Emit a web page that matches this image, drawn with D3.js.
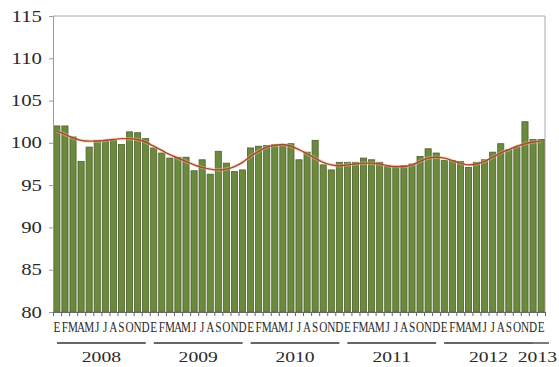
<!DOCTYPE html>
<html>
<head>
<meta charset="utf-8">
<script src="https://cdn.jsdelivr.net/npm/d3@7"></script>
<style>
  html, body { margin: 0; padding: 0; background: #fff; }
  svg { display: block; }
  text { font-family: "Liberation Serif", "Times New Roman", serif; fill: #2a2a2a; }
</style>
</head>
<body>
<svg id="chart" width="559" height="367"></svg>
<script>
// Monthly index, January 2008 – January 2013
const years = ["2008", "2009", "2010", "2011", "2012", "2013"];
const monthLetters = ["E", "F", "M", "A", "M", "J", "J", "A", "S", "O", "N", "D"];

const index2008 = [102.0, 102.0, 100.7, 97.8, 99.5, 100.3, 100.3, 100.3, 99.8, 101.3, 101.2, 100.5];
const index2009 = [99.4, 98.8, 98.2, 98.3, 98.3, 96.7, 98.0, 96.3, 99.0, 97.6, 96.6, 96.8];
const index2010 = [99.4, 99.6, 99.7, 99.8, 99.8, 99.9, 98.0, 98.9, 100.3, 97.4, 96.8, 97.7];
const index2011 = [97.7, 97.7, 98.2, 98.0, 97.7, 97.2, 97.2, 97.3, 97.5, 98.4, 99.3, 98.8];
const index2012 = [97.9, 97.9, 97.8, 97.1, 97.7, 98.0, 98.9, 99.9, 99.2, 99.5, 102.5, 100.4];
const index2013 = [100.4];

// Trend-cycle component
const trend2008 = [101.4, 101.0, 100.6, 100.3, 100.2, 100.2, 100.3, 100.4, 100.5, 100.5, 100.4, 100.1];
const trend2009 = [99.6, 99.1, 98.6, 98.2, 97.8, 97.4, 97.1, 96.9, 96.8, 96.9, 97.2, 97.7];
const trend2010 = [98.4, 99.0, 99.5, 99.7, 99.8, 99.6, 99.2, 98.7, 98.2, 97.7, 97.4, 97.3];
const trend2011 = [97.4, 97.5, 97.6, 97.6, 97.5, 97.3, 97.2, 97.2, 97.4, 97.8, 98.2, 98.3];
const trend2012 = [98.2, 97.9, 97.6, 97.4, 97.5, 97.8, 98.3, 98.8, 99.2, 99.6, 99.9, 100.1];
const trend2013 = [100.2];

const yTicks = [80, 85, 90, 95, 100, 105, 110, 115];

const indexByYear = [index2008, index2009, index2010, index2011, index2012, index2013];
const trendByYear = [trend2008, trend2009, trend2010, trend2011, trend2012, trend2013];

const rows = [];
indexByYear.forEach((vals, yi) => {
  vals.forEach((v, mi) => {
    rows.push({ i: rows.length, year: years[yi], month: monthLetters[mi], value: v, trend: trendByYear[yi][mi] });
  });
});

const width = 559;
const svg = d3.select("#chart");
const plotLeft = 53, plotRight = 545, plotTop = 16, plotBottom = 312;

const y = d3.scaleLinear().domain([80, 115]).range([plotBottom, plotTop]);
const x = d3.scaleBand().domain(rows.map(d => d.i)).range([plotLeft, plotRight]).paddingInner(0.24).paddingOuter(0.1);
const edge = d3.scaleLinear().domain([0, rows.length]).range([plotLeft, plotRight]);

// Plot frame
svg.append("line").attr("x1", plotLeft).attr("x2", plotRight).attr("y1", plotTop).attr("y2", plotTop)
  .attr("stroke", "#aaa").attr("stroke-width", 1);
svg.append("line").attr("x1", plotRight).attr("x2", plotRight).attr("y1", plotTop).attr("y2", plotBottom)
  .attr("stroke", "#aaa").attr("stroke-width", 1);

// Bars
svg.append("g").selectAll("rect").data(rows).join("rect")
  .attr("x", d => x(d.i))
  .attr("width", x.bandwidth())
  .attr("y", d => y(d.value))
  .attr("height", d => y(80) - y(d.value))
  .attr("fill", "#6c8a3e")
  .attr("stroke", "#4e5f2b")
  .attr("stroke-width", 0.8);

// Trend line
const line = d3.line().x(d => x(d.i) + x.bandwidth() / 2).y(d => y(d.trend)).curve(d3.curveMonotoneX);
svg.append("path").datum(rows).attr("d", line)
  .attr("fill", "none").attr("stroke", "#f2c08a").attr("stroke-width", 3.5).attr("stroke-opacity", 0.45);
svg.append("path").datum(rows).attr("d", line)
  .attr("fill", "none").attr("stroke", "#a04a36").attr("stroke-width", 1.4);

// Y axis
const yAxis = svg.append("g").attr("transform", `translate(${plotLeft},0)`)
  .call(d3.axisLeft(y).tickValues(yTicks).tickSize(4).tickFormat(""));
yAxis.select(".domain").attr("stroke", "#999");
yAxis.selectAll(".tick line").attr("stroke", "#999");
svg.append("g").selectAll("text").data(yTicks).join("text")
  .attr("transform", d => `translate(42,${y(d) + 5.5}) scale(1.3,1)`)
  .attr("text-anchor", "end")
  .attr("font-size", 16)
  .text(d => d);

// X axis with ticks between months
const xAxis = svg.append("g").attr("transform", `translate(0,${plotBottom})`)
  .call(d3.axisBottom(edge).tickValues(d3.range(0, rows.length + 1)).tickSize(4).tickFormat(""));
xAxis.select(".domain").attr("stroke", "#666");
xAxis.selectAll(".tick line").attr("stroke", "#666");

// Month initials
svg.append("g").selectAll("text").data(rows).join("text")
  .attr("transform", d => `translate(${x(d.i) + x.bandwidth() / 2},332) scale(0.8,1)`)
  .attr("text-anchor", "middle")
  .attr("font-size", 14)
  .text(d => d.month);

// Year groups: underline and label
const groups = d3.groups(rows, d => d.year);
const yearG = svg.append("g");
groups.forEach(([yr, ds]) => {
  const x0 = edge(ds[0].i), x1 = edge(ds[ds.length - 1].i + 1);
  const pad = ds.length > 1 ? 4 : -4;
  yearG.append("line")
    .attr("x1", x0 + pad).attr("x2", x1 - pad)
    .attr("y1", 343).attr("y2", 343)
    .attr("stroke", "#333").attr("stroke-width", 1.3);
  const t = yearG.append("text")
    .attr("text-anchor", "middle")
    .attr("font-size", 14)
    .text(yr);
  // keep the label inside the right edge of the drawing
  const half = t.node().getComputedTextLength() * 1.4 / 2;
  const cx = Math.min((x0 + x1) / 2, width - 2 - half);
  t.attr("transform", `translate(${cx},362) scale(1.4,1)`);
});
</script>
</body>
</html>
